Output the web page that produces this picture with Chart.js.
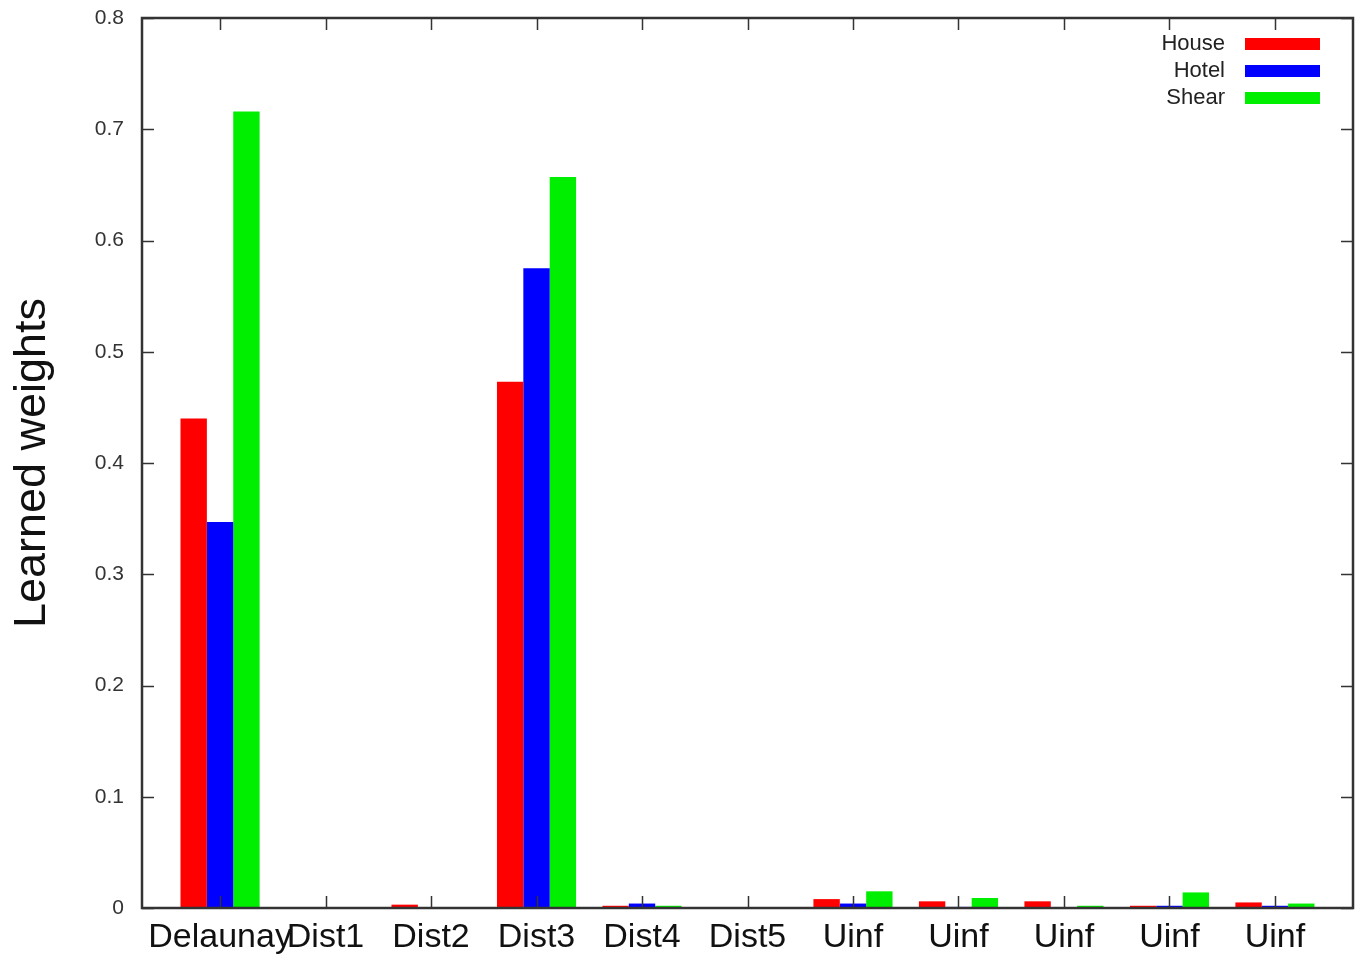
<!DOCTYPE html>
<html>
<head>
<meta charset="utf-8">
<script src="https://cdn.jsdelivr.net/npm/chart.js@4/dist/chart.umd.min.js"></script>
<style>
  html, body { margin: 0; padding: 0; background: #fff; }
  #wrap { width: 1363px; height: 965px; }
</style>
</head>
<body>
<div id="wrap"><canvas id="barChart"></canvas></div>
<script>
const categories = ["Delaunay", "Dist1", "Dist2", "Dist3", "Dist4", "Dist5", "Uinf", "Uinf", "Uinf", "Uinf", "Uinf"];
const seriesNames = ["House", "Hotel", "Shear"];
const house = [0.440, 0, 0.003, 0.473, 0.002, 0, 0.008, 0.006, 0.006, 0.002, 0.005];
const hotel = [0.347, 0, 0, 0.575, 0.004, 0, 0.004, 0.001, 0, 0.002, 0.002];
const shear = [0.716, 0, 0, 0.657, 0.002, 0, 0.015, 0.009, 0.002, 0.014, 0.004];
const yTicks = [0, 0.1, 0.2, 0.3, 0.4, 0.5, 0.6, 0.7, 0.8];
const colors = ["#ff0000", "#0000ff", "#00ee00"];

const toPoints = arr => arr.map((v, i) => ({ x: i, y: v }));

// frame, inward tick marks and the gnuplot-style legend
const framePlugin = {
    id: "frame",
    afterDraw(chart) {
        const ctx = chart.ctx;
        const a = chart.chartArea;
        const xs = chart.scales.x, ys = chart.scales.y;
        ctx.save();
        ctx.strokeStyle = "#333";
        ctx.lineWidth = 1.5;
        // ticks
        ctx.beginPath();
        yTicks.forEach(t => {
            const y = Math.round(ys.getPixelForValue(t)) + 0.5;
            ctx.moveTo(a.left, y); ctx.lineTo(a.left + 12, y);
            ctx.moveTo(a.right, y); ctx.lineTo(a.right - 12, y);
        });
        categories.forEach((c, i) => {
            const x = Math.round(xs.getPixelForValue(i)) + 0.5;
            ctx.moveTo(x, a.bottom); ctx.lineTo(x, a.bottom - 12);
            ctx.moveTo(x, a.top); ctx.lineTo(x, a.top + 12);
        });
        ctx.stroke();
        ctx.lineWidth = 2.5;
        ctx.strokeRect(a.left, a.top, a.right - a.left, a.bottom - a.top);

        // legend
        ctx.font = "22px 'Liberation Sans', Arial, sans-serif";
        ctx.textAlign = "right";
        ctx.textBaseline = "middle";
        chart.data.datasets.forEach((ds, i) => {
            const y = 44 + i * 27;
            ctx.fillStyle = "#222";
            ctx.fillText(ds.label, 1225, y);
            ctx.fillStyle = ds.backgroundColor;
            ctx.fillRect(1245, y - 6, 75, 12);
        });
        ctx.restore();
    }
};

new Chart(document.getElementById("barChart"), {
    type: "bar",
    data: {
        datasets: [
            { label: seriesNames[0], data: toPoints(house), backgroundColor: colors[0] },
            { label: seriesNames[1], data: toPoints(hotel), backgroundColor: colors[1] },
            { label: seriesNames[2], data: toPoints(shear), backgroundColor: colors[2] }
        ]
    },
    options: {
        responsive: true,
        maintainAspectRatio: false,
        animation: false,
        categoryPercentage: 0.75,
        barPercentage: 1.0,
        layout: { padding: { top: 18, right: 10, left: 0, bottom: 0 } },
        plugins: {
            legend: { display: false },
            tooltip: { enabled: false }
        },
        scales: {
            x: {
                type: "linear",
                min: -0.74,
                max: 10.74,
                offset: false,
                grid: { display: false },
                border: { display: false },
                afterBuildTicks: scale => {
                    scale.ticks = categories.map((c, i) => ({ value: i }));
                },
                afterFit: scale => { scale.height = 57; },
                ticks: {
                    autoSkip: false,
                    maxRotation: 0,
                    padding: 1,
                    color: "#111",
                    font: { family: "'Liberation Sans', Arial, sans-serif", size: 34 },
                    callback: v => categories[v]
                }
            },
            y: {
                min: 0,
                max: 0.8,
                grid: { display: false },
                border: { display: false },
                afterBuildTicks: scale => {
                    scale.ticks = yTicks.map(v => ({ value: v }));
                },
                afterFit: scale => {
                    scale.width = 142;
                    scale.paddingTop = 0;
                    scale.paddingBottom = 0;
                },
                ticks: {
                    padding: 10,
                    color: "#333",
                    font: { family: "'Liberation Sans', Arial, sans-serif", size: 21 },
                    callback: v => v === 0 ? "0" : v.toFixed(1)
                },
                title: {
                    display: true,
                    text: "Learned weights",
                    color: "#111",
                    padding: { top: 6, bottom: 12 },
                    font: { family: "'Liberation Sans', Arial, sans-serif", size: 45 }
                }
            }
        }
    },
    plugins: [framePlugin]
});
</script>
</body>
</html>
